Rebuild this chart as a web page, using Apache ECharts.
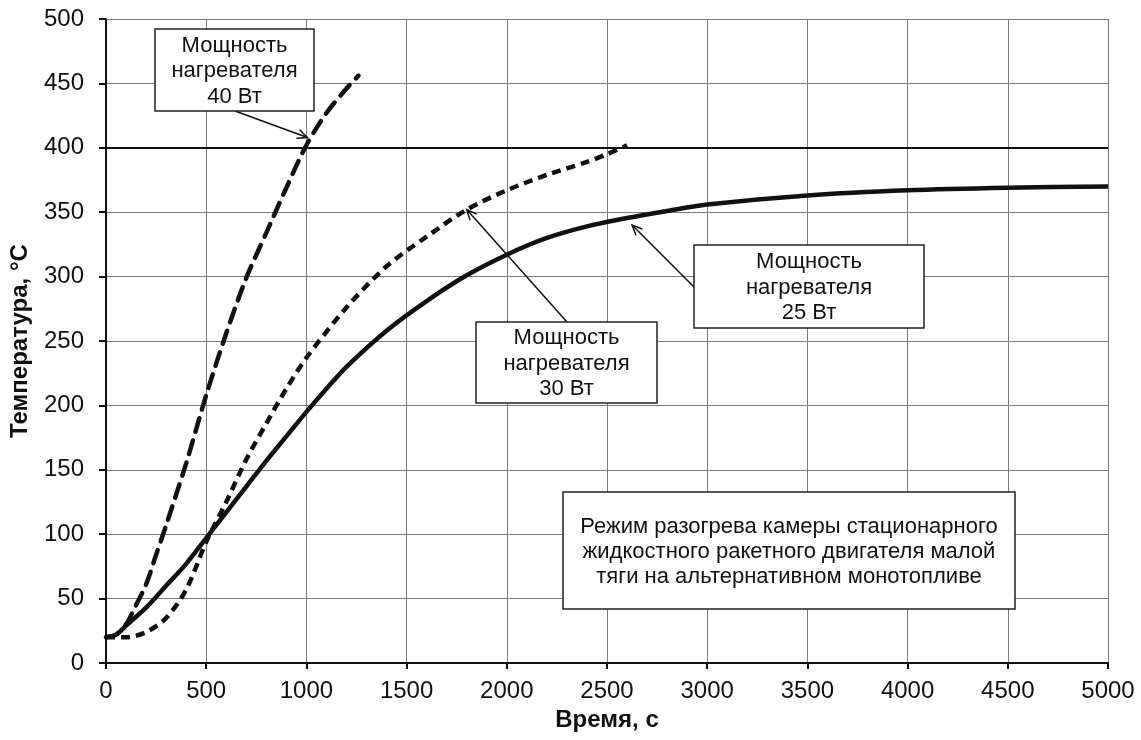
<!DOCTYPE html>
<html><head><meta charset="utf-8">
<script src="https://cdn.jsdelivr.net/npm/echarts@6/dist/echarts.min.js"></script>
<style>html,body{margin:0;padding:0;background:#fff}#c{width:1141px;height:740px}</style>
</head><body><div id="c"></div><script>
// ---- data ----
const t25 = [0,50,100,200,300,400,500,600,700,800,900,1000,1100,1200,1400,1600,1800,2000,2200,2400,2600,2800,3000,3500,4000,4500,5000];
const temp25 = [20,22,29,43,60,77,97,117,137,157,176,195,213,230,258,281,301,317,330,339,345.5,351,356,363,367,369,370];
const t30 = [0,100,200,300,400,500,600,700,800,900,1000,1200,1400,1600,1800,2000,2200,2400,2500,2600];
const temp30 = [20,20,24,35,57,94,125,158,186,213,237,276,308,331,352,367,379,389,395,402];
const t40 = [0,50,100,150,200,250,300,400,500,600,700,800,900,1000,1100,1200,1260];
const temp40 = [20,22,30,45,61,84,107,155,208,256,299,334,369,402,427,446,456];
const xTicks = [0,500,1000,1500,2000,2500,3000,3500,4000,4500,5000];
const yTicks = [0,50,100,150,200,250,300,350,400,450,500];
const limitTemp = 400;
const labels = {
  w40: 'Мощность\nнагревателя\n40 Вт',
  w30: 'Мощность\nнагревателя\n30 Вт',
  w25: 'Мощность\nнагревателя\n25 Вт',
  note: 'Режим разогрева камеры стационарного\nжидкостного ракетного двигателя малой\nтяги на альтернативном монотопливе'
};
const xName = 'Время, с';
const yName = 'Температура, °C';

const pairs = (xs, ys) => xs.map((x, i) => [x, ys[i]]);
const FONT = '"Liberation Sans", Arial, sans-serif';

const chart = echarts.init(document.getElementById('c'), null, {renderer: 'canvas'});
chart.setOption({
  animation: false,
  backgroundColor: '#fff',
  grid: {left: 102.5, right: 33, top: 19, bottom: 77, containLabel: false},
  xAxis: {
    type: 'value', min: xTicks[0], max: xTicks[xTicks.length-1], interval: 500,
    name: xName, nameLocation: 'middle', nameGap: 45,
    nameTextStyle: {fontFamily: FONT, fontSize: 24, fontWeight: 'bold', color: '#111'},
    axisLine: {show: true, onZero: false, lineStyle: {color: '#111', width: 2}},
    axisTick: {show: true, inside: false, length: 6, lineStyle: {color: '#111', width: 2}},
    axisLabel: {fontFamily: FONT, fontSize: 24, color: '#111', margin: 16, formatter: v => String(v)},
    splitLine: {show: true, lineStyle: {color: '#7a7a7a', width: 1}}
  },
  yAxis: {
    type: 'value', min: yTicks[0], max: yTicks[yTicks.length-1], interval: 50,
    name: yName, nameLocation: 'middle', nameGap: 74, nameRotate: 90,
    nameTextStyle: {fontFamily: FONT, fontSize: 24, fontWeight: 'bold', color: '#111'},
    axisLine: {show: true, lineStyle: {color: '#111', width: 2}},
    axisTick: {show: true, inside: false, length: 7, lineStyle: {color: '#111', width: 2}},
    axisLabel: {fontFamily: FONT, fontSize: 24, color: '#111', margin: 22, formatter: v => String(v)},
    splitLine: {show: true, lineStyle: {color: '#7a7a7a', width: 1}}
  },
  series: [
    {
      type: 'line', name: '25 Вт', data: pairs(t25, temp25), smooth: 0.3, showSymbol: false,
      lineStyle: {color: '#111', width: 4.5, type: 'solid'},
      markLine: {silent: true, symbol: ['none','none'], label: {show: false},
        lineStyle: {color: '#111', width: 2, type: 'solid'}, data: [{yAxis: limitTemp}]}
    },
    {
      type: 'line', name: '30 Вт', data: pairs(t30, temp30), smooth: 0.3, showSymbol: false,
      lineStyle: {color: '#111', width: 4.5, type: [9, 6], cap: 'butt'}
    },
    {
      type: 'line', name: '40 Вт', data: pairs(t40, temp40), smooth: 0.3, showSymbol: false,
      lineStyle: {color: '#111', width: 4.5, type: [14, 9], cap: 'round'}
    }
  ]
});

// ---- annotations ----
const boxes = [
  {text: labels.w40, x: 155, y: 29, w: 159, h: 82, lh: 25.5, tail: [235, 111], tip: [1005, 408]},
  {text: labels.w30, x: 476, y: 322, w: 181, h: 81, lh: 25.5, tail: [567, 322], tip: [1800, 352]},
  {text: labels.w25, x: 694, y: 245, w: 230, h: 83, lh: 25.5, tail: [694, 287], tip: [2625, 340]},
  {text: labels.note, x: 563, y: 492, w: 452, h: 117, lh: 25, tail: null, tip: null}
];
const g = [];
boxes.forEach(b => {
  g.push({type: 'rect', shape: {x: b.x, y: b.y, width: b.w, height: b.h},
    style: {fill: '#fff', stroke: '#222', lineWidth: 1.5}, z: 100});
  g.push({type: 'text', z: 101, style: {text: b.text, x: b.x + b.w/2, y: b.y + b.h/2 + 1,
    align: 'center', verticalAlign: 'middle', font: '22px ' + FONT, lineHeight: b.lh, fill: '#111'}});
  if (b.tip) {
    const p = chart.convertToPixel({gridIndex: 0}, b.tip);
    const dx = p[0] - b.tail[0], dy = p[1] - b.tail[1];
    const L = Math.hypot(dx, dy), ux = dx / L, uy = dy / L;
    const ah = 11, aw = 0.42;
    const a1 = [p[0] - ah*(ux*Math.cos(aw) - uy*Math.sin(aw)), p[1] - ah*(uy*Math.cos(aw) + ux*Math.sin(aw))];
    const a2 = [p[0] - ah*(ux*Math.cos(-aw) - uy*Math.sin(-aw)), p[1] - ah*(uy*Math.cos(-aw) + ux*Math.sin(-aw))];
    g.push({type: 'line', z: 99, shape: {x1: b.tail[0], y1: b.tail[1], x2: p[0], y2: p[1]},
      style: {stroke: '#111', lineWidth: 1.5}});
    g.push({type: 'polyline', z: 99, shape: {points: [a1, p, a2]},
      style: {stroke: '#111', lineWidth: 1.5, fill: null}});
  }
});
chart.setOption({graphic: g});
</script></body></html>
